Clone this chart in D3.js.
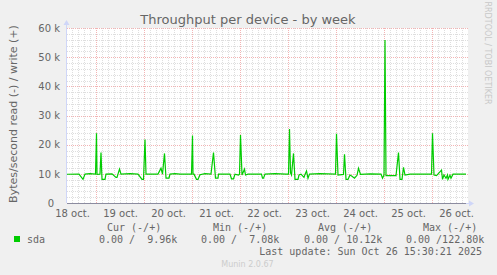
<!DOCTYPE html>
<html>
<head>
<meta charset="utf-8">
<script src="https://cdn.jsdelivr.net/npm/d3@7"></script>
<style>
  body { margin: 0; background: #f0f0f0; }
  text { font-family: "DejaVu Sans", sans-serif; fill: #666; }
  .mono { font-family: "DejaVu Sans Mono", monospace; font-size: 10px; white-space: pre; }
</style>
</head>
<body>
<svg id="chart"></svg>
<script>
// chart texts
const title = "Throughput per device - by week";
const yLabel = "Bytes/second read (-) / write (+)";
const dayLabels = ["18 oct.", "19 oct.", "20 oct.", "21 oct.", "22 oct.", "23 oct.", "24 oct.", "25 oct.", "26 oct."];
const dayNoons = ["2025-10-18 12:00", "2025-10-19 12:00", "2025-10-20 12:00", "2025-10-21 12:00", "2025-10-22 12:00",
  "2025-10-23 12:00", "2025-10-24 12:00", "2025-10-25 12:00", "2025-10-26 12:00"];
const yTicks = [0, 10000, 20000, 30000, 40000, 50000, 60000];
const legendHeaders = ["Cur (-/+)", "Min (-/+)", "Avg (-/+)", "Max (-/+)"];
const legendValues = ["0.00 /  9.96k", "0.00 /  7.08k", "0.00 / 10.12k", "0.00 /122.80k"];
const lastUpdate = "Last update: Sun Oct 26 15:30:21 2025";

// sda write (+) series, bytes/s (read (-) stays at 0)
const sdaWrite = [
  ["2025-10-18 09:30", 9850], ["2025-10-18 15:30", 9900], ["2025-10-18 17:30", 8100], ["2025-10-18 18:30", 9900],
  ["2025-10-18 21:00", 10100], ["2025-10-18 23:45", 9900],
  ["2025-10-19 00:15", 23900], ["2025-10-19 00:30", 9800], ["2025-10-19 02:00", 9900], ["2025-10-19 02:30", 17300],
  ["2025-10-19 03:00", 8100], ["2025-10-19 04:30", 8100], ["2025-10-19 05:00", 9900], ["2025-10-19 08:00", 10000],
  ["2025-10-19 10:00", 8800], ["2025-10-19 10:30", 8800], ["2025-10-19 11:45", 11600], ["2025-10-19 12:30", 9900],
  ["2025-10-19 17:00", 10100], ["2025-10-19 21:00", 9900], ["2025-10-19 23:00", 8100], ["2025-10-19 23:45", 8100],
  ["2025-10-20 00:30", 21800], ["2025-10-20 01:00", 9900], ["2025-10-20 07:00", 9900], ["2025-10-20 08:30", 11900],
  ["2025-10-20 09:15", 9900], ["2025-10-20 10:15", 17000], ["2025-10-20 11:00", 8500], ["2025-10-20 12:30", 8500],
  ["2025-10-20 13:00", 9900], ["2025-10-20 15:30", 10100], ["2025-10-20 18:00", 9900], ["2025-10-20 23:45", 9900],
  ["2025-10-21 00:15", 23100], ["2025-10-21 00:30", 9900], ["2025-10-21 01:00", 9900], ["2025-10-21 02:15", 8100],
  ["2025-10-21 03:00", 8100], ["2025-10-21 04:00", 9700], ["2025-10-21 06:30", 10100], ["2025-10-21 09:30", 9900],
  ["2025-10-21 10:45", 17300], ["2025-10-21 11:45", 8500], ["2025-10-21 13:00", 8500], ["2025-10-21 13:15", 9900],
  ["2025-10-21 19:00", 9900], ["2025-10-21 19:45", 8300], ["2025-10-21 20:45", 8300], ["2025-10-21 21:30", 9900],
  ["2025-10-21 23:15", 9600], ["2025-10-21 23:45", 9900],
  ["2025-10-22 00:15", 23300], ["2025-10-22 01:00", 9600], ["2025-10-22 02:15", 11600], ["2025-10-22 02:45", 9600],
  ["2025-10-22 04:00", 9900], ["2025-10-22 10:45", 9900], ["2025-10-22 11:15", 8500], ["2025-10-22 11:45", 8500],
  ["2025-10-22 12:30", 9900], ["2025-10-22 17:30", 10100], ["2025-10-22 23:00", 9900],
  ["2025-10-23 00:15", 9900], ["2025-10-23 00:45", 25400], ["2025-10-23 01:15", 10300], ["2025-10-23 01:45", 9600],
  ["2025-10-23 02:45", 17000], ["2025-10-23 03:30", 8100], ["2025-10-23 05:00", 8100], ["2025-10-23 05:30", 9600],
  ["2025-10-23 06:30", 9900], ["2025-10-23 08:00", 8800], ["2025-10-23 08:30", 9800], ["2025-10-23 09:15", 11000],
  ["2025-10-23 10:00", 8500], ["2025-10-23 10:45", 9900], ["2025-10-23 16:00", 10100], ["2025-10-23 23:45", 9900],
  ["2025-10-24 00:15", 23700], ["2025-10-24 01:00", 9600], ["2025-10-24 03:45", 9800], ["2025-10-24 04:15", 16700],
  ["2025-10-24 05:00", 8100], ["2025-10-24 06:00", 8100], ["2025-10-24 07:00", 9600], ["2025-10-24 08:00", 9200],
  ["2025-10-24 09:15", 8500], ["2025-10-24 10:30", 9500], ["2025-10-24 11:15", 11900], ["2025-10-24 12:15", 9800],
  ["2025-10-24 17:00", 10000], ["2025-10-24 22:30", 9900], ["2025-10-24 23:15", 8500],
  ["2025-10-25 00:00", 9600], ["2025-10-25 00:30", 55900], ["2025-10-25 01:00", 9400], ["2025-10-25 06:00", 9400],
  ["2025-10-25 07:15", 17300], ["2025-10-25 08:00", 8100], ["2025-10-25 09:00", 8100], ["2025-10-25 09:45", 12200],
  ["2025-10-25 10:30", 9600], ["2025-10-25 13:00", 9900], ["2025-10-25 23:45", 9900],
  ["2025-10-26 00:15", 23900], ["2025-10-26 01:00", 9600], ["2025-10-26 02:15", 9400], ["2025-10-26 04:45", 11300],
  ["2025-10-26 05:15", 8100], ["2025-10-26 06:00", 9600], ["2025-10-26 07:00", 8500], ["2025-10-26 07:45", 9600],
  ["2025-10-26 08:00", 8100], ["2025-10-26 09:00", 9500], ["2025-10-26 09:30", 8500], ["2025-10-26 10:30", 9900],
  ["2025-10-26 17:00", 9900]
];

const W = 497, H = 275;
const plot = { left: 67, right: 467, top: 28, bottom: 203 };
const parse = d3.timeParse("%Y-%m-%d %H:%M");

const svg = d3.select("#chart").attr("width", W).attr("height", H);
svg.append("rect").attr("width", W).attr("height", H).attr("fill", "#f0f0f0");

const x = d3.scaleTime()
  .domain([parse("2025-10-18 09:30"), parse("2025-10-26 17:30")])
  .range([plot.left, plot.right]);
const y = d3.scaleLinear().domain([0, 60000]).range([plot.bottom, plot.top]);

// canvas
svg.append("rect")
  .attr("x", plot.left).attr("y", plot.top)
  .attr("width", plot.right - plot.left + 1).attr("height", plot.bottom - plot.top)
  .attr("fill", "#fff");

const px = v => Math.round(v) + 0.5;
const grid = svg.append("g").attr("stroke-dasharray", "1,1").attr("stroke-width", 1);

// minor grid: every 2k and every 3 hours
const minorY = d3.range(2000, 60001, 2000).filter(v => v % 10000 !== 0);
grid.selectAll(".gy").data(minorY).enter().append("line")
  .attr("x1", plot.left).attr("x2", plot.right + 1)
  .attr("y1", d => px(y(d))).attr("y2", d => px(y(d)))
  .attr("stroke", "#dedede");
const minorX = d3.timeHour.every(3).range(x.domain()[0], x.domain()[1]).filter(d => d.getHours() !== 0);
grid.selectAll(".gx").data(minorX).enter().append("line")
  .attr("x1", d => px(x(d))).attr("x2", d => px(x(d)))
  .attr("y1", plot.top).attr("y2", plot.bottom)
  .attr("stroke", "#dedede");

// major grid: every 10k and at midnight
grid.selectAll(".my").data(yTicks.filter(v => v > 0)).enter().append("line")
  .attr("x1", plot.left).attr("x2", plot.right + 1)
  .attr("y1", d => px(y(d))).attr("y2", d => px(y(d)))
  .attr("stroke", "#f2b4b4");
const midnights = d3.timeDay.range(x.domain()[0], x.domain()[1]);
grid.selectAll(".mx").data(midnights).enter().append("line")
  .attr("x1", d => px(x(d))).attr("x2", d => px(x(d)))
  .attr("y1", plot.top).attr("y2", plot.bottom)
  .attr("stroke", "#f2b4b4");

// axes lines with arrows
svg.append("line").attr("x1", plot.left - 0.5).attr("x2", plot.left - 0.5)
  .attr("y1", plot.bottom).attr("y2", plot.top - 5).attr("stroke", "#cfd6f8");
svg.append("path").attr("d", `M${plot.left - 3.5},${plot.top - 3} L${plot.left - 0.5},${plot.top - 8} L${plot.left + 2.5},${plot.top - 3} Z`)
  .attr("fill", "#cfd6f8");
svg.append("line").attr("x1", plot.left).attr("x2", plot.right + 4)
  .attr("y1", plot.bottom + 0.5).attr("y2", plot.bottom + 0.5).attr("stroke", "#cfd6f8");
svg.append("path").attr("d", `M${plot.right + 2},${plot.bottom - 2.5} L${plot.right + 7},${plot.bottom + 0.5} L${plot.right + 2},${plot.bottom + 3.5} Z`)
  .attr("fill", "#cfd6f8");

// read (-) series sits at 0
svg.append("line").attr("x1", plot.left).attr("x2", x(parse(sdaWrite[sdaWrite.length - 1][0])))
  .attr("y1", plot.bottom + 0.5).attr("y2", plot.bottom + 0.5).attr("stroke", "#8c8ca0");

// write (+) series
const line = d3.line().x(d => x(parse(d[0]))).y(d => y(d[1]));
svg.append("path").datum(sdaWrite)
  .attr("d", line)
  .attr("fill", "none")
  .attr("stroke", "#00cc00")
  .attr("stroke-width", 1.2)
  .attr("stroke-linejoin", "miter");

// y axis labels
const yAxis = svg.append("g")
  .attr("transform", `translate(${plot.left - 7},0)`)
  .call(d3.axisLeft(y).tickValues(yTicks).tickSize(0).tickPadding(0)
    .tickFormat(d => d === 0 ? "0" : (d / 1000) + " k"));
yAxis.select(".domain").remove();
yAxis.selectAll("text").attr("font-size", 10).attr("font-family", "DejaVu Sans").attr("fill", "#666")
  .attr("dx", d => d === 0 ? -6 : 0);

// x axis labels
const xAxis = svg.append("g")
  .attr("transform", `translate(0,${plot.bottom + 7})`)
  .call(d3.axisBottom(x).tickValues(dayNoons.map(parse)).tickSize(0).tickPadding(0)
    .tickFormat((d, i) => dayLabels[i]));
xAxis.select(".domain").remove();
xAxis.selectAll("text").attr("font-size", 10).attr("font-family", "DejaVu Sans").attr("fill", "#666");

// title
svg.append("text").attr("x", 248).attr("y", 24).attr("text-anchor", "middle")
  .attr("font-size", 13).text(title);

// y label
svg.append("text").attr("transform", "translate(17,114) rotate(-90)")
  .attr("text-anchor", "middle").attr("font-size", 11).text(yLabel);

// rrdtool credit
svg.append("text").attr("transform", "translate(485,53) rotate(90)")
  .attr("text-anchor", "middle").attr("font-size", 8).style("fill", "#c8c8c8")
  .text("RRDTOOL / TOBI OETIKER");

// legend
const headerX = [107, 213, 318, 423];
const valueX = [99, 201, 304, 406];
svg.selectAll(".lh").data(legendHeaders).enter().append("text")
  .attr("class", "mono").attr("x", (d, i) => headerX[i]).attr("y", 231).text(d => d);
svg.selectAll(".lv").data(legendValues).enter().append("text")
  .attr("class", "mono").attr("x", (d, i) => valueX[i]).attr("y", 243).text(d => d);
svg.append("rect").attr("x", 14).attr("y", 236).attr("width", 6).attr("height", 6).attr("fill", "#00cc00");
svg.append("text").attr("class", "mono").attr("x", 27).attr("y", 243).text("sda");
svg.append("text").attr("class", "mono").attr("x", 482).attr("y", 255).attr("text-anchor", "end").text(lastUpdate);

svg.append("text").attr("x", 247.5).attr("y", 267).attr("text-anchor", "middle")
  .attr("font-size", 8).style("fill", "#cccccc").text("Munin 2.0.67");
</script>
</body>
</html>
